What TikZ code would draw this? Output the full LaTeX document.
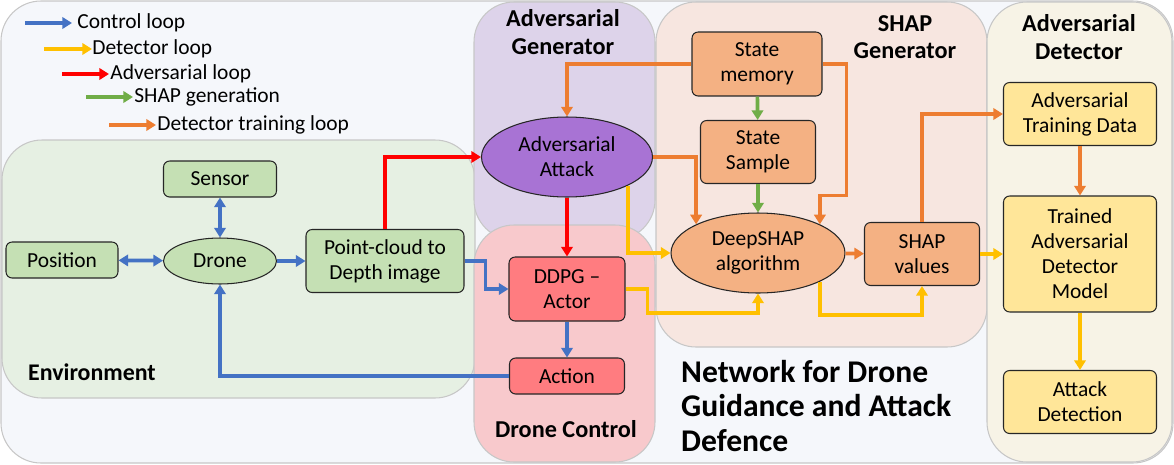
\documentclass[tikz,border=0pt]{standalone}
\usepackage{fontspec}
\setmainfont{Carlito}
\usetikzlibrary{positioning}
\usetikzlibrary{calc}
\usetikzlibrary{arrows.meta}
\usetikzlibrary{shapes.geometric}
\definecolor{ctrlblue}{HTML}{4472C4}
\definecolor{detyellow}{HTML}{FFC000}
\definecolor{advred}{HTML}{FF0000}
\definecolor{shapgreen}{HTML}{70AD47}
\definecolor{trainorange}{HTML}{ED7D31}
\definecolor{bgouter}{HTML}{F5F7FB}
\definecolor{bgenv}{HTML}{E6F0E3}
\definecolor{bgadv}{HTML}{DDD3EA}
\definecolor{bgctrl}{HTML}{F8C9CC}
\definecolor{bgshap}{HTML}{F7E6E0}
\definecolor{bgdet}{HTML}{F7F3E6}
\definecolor{nodegreen}{HTML}{C5E0B4}
\definecolor{nodepurple}{HTML}{A873D4}
\definecolor{nodered}{HTML}{FF7C80}
\definecolor{nodeorange}{HTML}{F4B183}
\definecolor{nodeyellow}{HTML}{FFE699}

\begin{document}
\begin{tikzpicture}[x=0.02cm, y=-0.02cm, font=\fontsize{12.2}{14.2}\selectfont,
    grp/.style={draw=black!22, line width=0.6pt, rounded corners=0.8cm},
    blk/.style={draw=black!85, line width=0.6pt, rounded corners=3.5pt, align=center, inner sep=1pt},
    oval/.style={ellipse, draw=black!85, line width=0.6pt, align=center, inner sep=0pt},
    title/.style={font=\fontsize{13.8}{15.6}\selectfont\bfseries, align=center},
    wire/.style={line width=2.1pt, >={Triangle[length=5.5pt,width=6.5pt]}, ->},
    ctrl/.style={wire, ctrlblue},
    det/.style={wire, detyellow},
    adv/.style={wire, advred},
    shp/.style={wire, shapgreen},
    trn/.style={wire, trainorange}]
    \useasboundingbox (0,0) rectangle (1174,464);

    \draw[grp, fill=bgouter] (1,1) rectangle (1173,463);
    \draw[grp, fill=bgenv] (2,140) rectangle (475,398);
    \draw[grp, fill=bgadv] (474,2) rectangle (655,240);
    \draw[grp, fill=bgctrl] (474,225) rectangle (655,462);
    \draw[grp, fill=bgshap] (656,2) rectangle (987,347);
    \draw[grp, fill=bgdet] (987,2) rectangle (1172,462);

    \node[title] (tadv) at (563,32) {Adversarial\\Generator};
    \node[title] (tshap) at (905,37) {SHAP\\Generator};
    \node[title] (tdet) at (1079,37) {Adversarial\\Detector};
    \node[title] (tctrl) at (566,429) {Drone Control};
    \node[font=\fontsize{13.6}{16}\selectfont\bfseries, anchor=west] (tenv) at (22,372) {Environment};
    \node[font=\fontsize{18}{19.8}\selectfont\bfseries, align=left, anchor=west] (tnet) at (675,406) {Network for Drone\\Guidance and Attack\\Defence};

    % legend
    \node[anchor=west, inner sep=0pt] (lctrl) at (77,23) {Control loop};
    \node[anchor=west, inner sep=0pt] (ldet) at (92,49) {Detector loop};
    \node[anchor=west, inner sep=0pt] (ladv) at (110,74) {Adversarial loop};
    \node[anchor=west, inner sep=0pt] (lshp) at (134,97) {SHAP generation};
    \node[anchor=west, inner sep=0pt] (ltrn) at (157,125) {Detector training loop};
    \draw[ctrl] ($(lctrl.west)+(-52,0)$) -- ($(lctrl.west)+(-5,0)$);
    \draw[det] ($(ldet.west)+(-48,0)$) -- (ldet.west);
    \draw[adv] ($(ladv.west)+(-48,0)$) -- ($(ladv.west)+(-1,0)$);
    \draw[shp] ($(lshp.west)+(-48,0)$) -- ($(lshp.west)+(-1,0)$);
    \draw[trn] ($(ltrn.west)+(-48,0)$) -- ($(ltrn.west)+(-1,0)$);

    % environment
    \node[blk, fill=nodegreen, minimum width=2.26cm, minimum height=0.72cm] (sensor) at (220,179) {Sensor};
    \node[blk, fill=nodegreen, minimum width=2.24cm, minimum height=0.72cm] (pos) at (62,260) {Position};
    \node[oval, fill=nodegreen, minimum width=2.26cm, minimum height=0.92cm] (drone) at (220,261) {Drone};
    \node[blk, fill=nodegreen, minimum width=3.16cm, minimum height=1.26cm] (pc) at (385,261) {Point-cloud to\\Depth image};

    % adversarial generator and drone control
    \node[oval, fill=nodepurple, minimum width=3.42cm, minimum height=1.6cm] (att) at (567,157) {Adversarial\\Attack};
    \node[blk, fill=nodered, minimum width=2.32cm, minimum height=1.28cm] (ddpg) at (567,289) {DDPG --\\Actor};
    \node[blk, fill=nodered, minimum width=2.3cm, minimum height=0.72cm] (act) at (567,376) {Action};

    % shap generator
    \node[blk, fill=nodeorange, minimum width=2.6cm, minimum height=1.28cm] (sm) at (757,64) {State\\memory};
    \node[blk, fill=nodeorange, minimum width=2.3cm, minimum height=1.26cm] (ss) at (758,152) {State\\Sample};
    \node[oval, fill=nodeorange, minimum width=3.48cm, minimum height=1.6cm] (ds) at (758,253) {DeepSHAP\\algorithm};
    \node[blk, fill=nodeorange, minimum width=2.3cm, minimum height=1.26cm] (sv) at (922,254) {SHAP\\values};

    % adversarial detector
    \node[blk, fill=nodeyellow, minimum width=3.06cm, minimum height=1.26cm] (atd) at (1080,114) {Adversarial\\Training Data};
    \node[blk, fill=nodeyellow, minimum width=3.06cm, minimum height=2.32cm] (tadm) at (1080,254) {Trained\\Adversarial\\Detector\\Model};
    \node[blk, fill=nodeyellow, minimum width=3.06cm, minimum height=1.26cm] (adet) at (1080,402) {Attack\\Detection};

    \draw[ctrl, <->] (sensor) -- (drone);
    \draw[ctrl, <->] (pos) -- (drone);
    \draw[ctrl] (drone) -- (pc);
    \draw[ctrl] (pc.east) -- ++(21,0) |- (ddpg.west);
    \draw[ctrl] (ddpg) -- (act);
    \draw[ctrl] (act.west) -| (drone.south);

    \draw[adv] (pc.north) |- (att.west);
    \draw[adv] (att) -- (ddpg);

    \draw[det] (att.south east) |- (ds.west);
    \draw[det] (ddpg.east) -- ++(22,0) -- ++(0,24) -| (ds.south);
    \draw[det] (ds.south east) -- ++(0,33) -| (sv.south);
    \draw[det] (sv) -- (tadm);
    \draw[det] (tadm) -- (adet);

    \draw[shp] (sm) -- (ss);
    \draw[shp] (ss) -- (ds);

    \draw[trn] (sm.west) -| (att.north);
    \draw[trn] (att.east) -| (ds.north west);
    \draw[trn] (sm.east) -- ++(24,0) |- ($(ds.north east)+(0,-29)$) -- (ds.north east);
    \draw[trn] (ds) -- (sv);
    \draw[trn] (sv.north) |- (atd.west);
    \draw[trn] (atd) -- (tadm);
\end{tikzpicture}
\end{document}
